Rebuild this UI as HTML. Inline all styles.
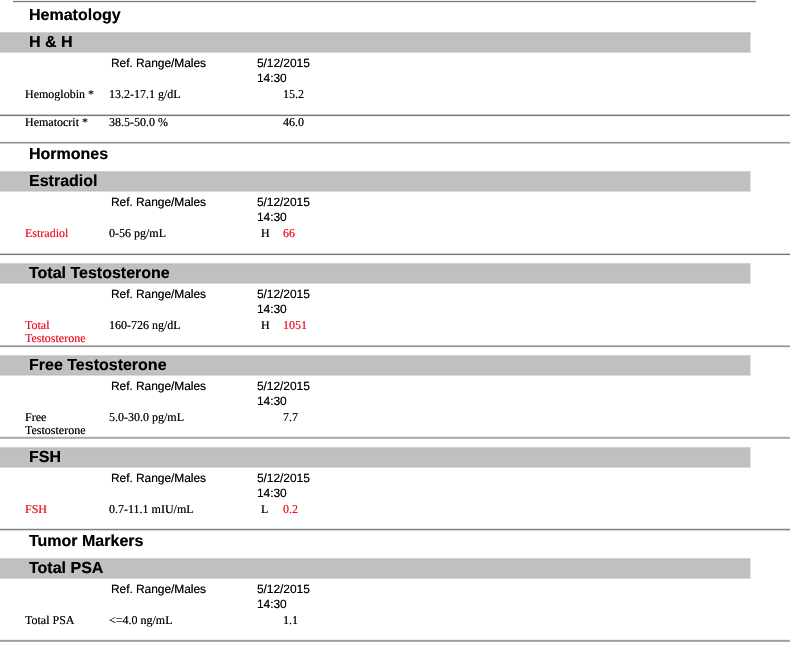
<!DOCTYPE html>
<html><head><meta charset="utf-8"><title>Lab Results</title><style>
html,body{margin:0;padding:0;background:#fff;}
body{width:800px;height:651px;position:relative;overflow:hidden;}
div{position:absolute;white-space:nowrap;text-rendering:geometricPrecision;}
.h{font:bold 16px/18px 'Liberation Sans', Arial, Helvetica, sans-serif;color:#000;text-shadow:0 0 0.6px rgba(0,0,0,.6);}
.s{font:12px/14px 'Liberation Sans', Arial, Helvetica, sans-serif;color:#000;letter-spacing:-0.07px;text-shadow:0 0 0.6px rgba(0,0,0,.6);}
.t{font:12px/13px 'Liberation Serif', 'Times New Roman', Times, serif;color:#000;text-shadow:0 0 0.6px rgba(0,0,0,.6);}
.r{color:#ee1020;text-shadow:0 0 0.6px rgba(238,16,32,.6);}

.bar{left:0;width:750px;height:21px;border-right:1px solid #e2e2e2;background:linear-gradient(#d2d2d2 0 1px,#bcbcbc 1px 2px,#c0c0c0 2px 19px,#bdbdbd 19px 20px,#dcdcdc 20px 21px);}
</style></head>
<body>
<div class="ln" style="left:13px;top:0px;width:743px;height:3px;background:linear-gradient(#f0f0f0 0px 1px, #787878 1px 2px, #e8e8e8 2px 3px)"></div>
<div class="h" style="left:29px;top:7px">Hematology</div>
<div class="bar" style="top:32px"></div>
<div class="h" style="left:29px;top:34px">H &amp; H</div>
<div class="s" style="left:111px;top:56px">Ref. Range/Males</div>
<div class="s" style="left:257px;top:56px">5/12/2015</div>
<div class="s" style="left:257px;top:71px">14:30</div>
<div class="t" style="left:25px;top:88px">Hemoglobin *</div>
<div class="t" style="left:109px;top:88px">13.2-17.1 g/dL</div>
<div class="t" style="left:283px;top:88px">15.2</div>
<div class="ln" style="left:0px;top:114px;width:790px;height:3px;background:linear-gradient(#c8c8c8 0px 1px, #787878 1px 2px, #f2f2f2 2px 3px)"></div>
<div class="t" style="left:25px;top:116px">Hematocrit *</div>
<div class="t" style="left:109px;top:116px">38.5-50.0 %</div>
<div class="t" style="left:283px;top:116px">46.0</div>
<div class="ln" style="left:0px;top:141px;width:790px;height:3px;background:linear-gradient(#f5f5f5 0px 1px, #909090 1px 2px, #c8c8c8 2px 3px)"></div>
<div class="h" style="left:29px;top:146px">Hormones</div>
<div class="bar" style="top:171px"></div>
<div class="h" style="left:29px;top:173px">Estradiol</div>
<div class="s" style="left:111px;top:195px">Ref. Range/Males</div>
<div class="s" style="left:257px;top:195px">5/12/2015</div>
<div class="s" style="left:257px;top:210px">14:30</div>
<div class="t r" style="left:25px;top:227px">Estradiol</div>
<div class="t" style="left:109px;top:227px">0-56 pg/mL</div>
<div class="t" style="left:261px;top:227px">H</div>
<div class="t r" style="left:283px;top:227px">66</div>
<div class="ln" style="left:0px;top:253px;width:790px;height:3px;background:linear-gradient(#d0d0d0 0px 1px, #747474 1px 2px, #f5f5f5 2px 3px)"></div>
<div class="bar" style="top:263px"></div>
<div class="h" style="left:29px;top:265px">Total Testosterone</div>
<div class="s" style="left:111px;top:287px">Ref. Range/Males</div>
<div class="s" style="left:257px;top:287px">5/12/2015</div>
<div class="s" style="left:257px;top:302px">14:30</div>
<div class="t r" style="left:25px;top:319px">Total</div>
<div class="t r" style="left:25px;top:332px">Testosterone</div>
<div class="t" style="left:109px;top:319px">160-726 ng/dL</div>
<div class="t" style="left:261px;top:319px">H</div>
<div class="t r" style="left:283px;top:319px">1051</div>
<div class="ln" style="left:0px;top:345px;width:790px;height:3px;background:linear-gradient(#bbbbbb 0px 1px, #999999 1px 2px, #f0f0f0 2px 3px)"></div>
<div class="bar" style="top:355px"></div>
<div class="h" style="left:29px;top:357px">Free Testosterone</div>
<div class="s" style="left:111px;top:379px">Ref. Range/Males</div>
<div class="s" style="left:257px;top:379px">5/12/2015</div>
<div class="s" style="left:257px;top:394px">14:30</div>
<div class="t" style="left:25px;top:411px">Free</div>
<div class="t" style="left:25px;top:424px">Testosterone</div>
<div class="t" style="left:109px;top:411px">5.0-30.0 pg/mL</div>
<div class="t" style="left:283px;top:411px">7.7</div>
<div class="ln" style="left:0px;top:436px;width:790px;height:3px;background:linear-gradient(#eeeeee 0px 1px, #a8a8a8 1px 2px, #b8b8b8 2px 3px)"></div>
<div class="bar" style="top:447px"></div>
<div class="h" style="left:29px;top:449px">FSH</div>
<div class="s" style="left:111px;top:471px">Ref. Range/Males</div>
<div class="s" style="left:257px;top:471px">5/12/2015</div>
<div class="s" style="left:257px;top:486px">14:30</div>
<div class="t r" style="left:25px;top:503px">FSH</div>
<div class="t" style="left:109px;top:503px">0.7-11.1 mIU/mL</div>
<div class="t" style="left:261px;top:503px">L</div>
<div class="t r" style="left:283px;top:503px">0.2</div>
<div class="ln" style="left:0px;top:528px;width:790px;height:3px;background:linear-gradient(#e4e4e4 0px 1px, #808080 1px 2px, #d8d8d8 2px 3px)"></div>
<div class="h" style="left:29px;top:533px">Tumor Markers</div>
<div class="bar" style="top:558px"></div>
<div class="h" style="left:29px;top:560px">Total PSA</div>
<div class="s" style="left:111px;top:582px">Ref. Range/Males</div>
<div class="s" style="left:257px;top:582px">5/12/2015</div>
<div class="s" style="left:257px;top:597px">14:30</div>
<div class="t" style="left:25px;top:614px">Total PSA</div>
<div class="t" style="left:109px;top:614px">&lt;=4.0 ng/mL</div>
<div class="t" style="left:283px;top:614px">1.1</div>
<div class="ln" style="left:0px;top:639px;width:790px;height:3px;background:linear-gradient(#f0f0f0 0px 1px, #a0a0a0 1px 2px, #acacac 2px 3px)"></div>
</body></html>
